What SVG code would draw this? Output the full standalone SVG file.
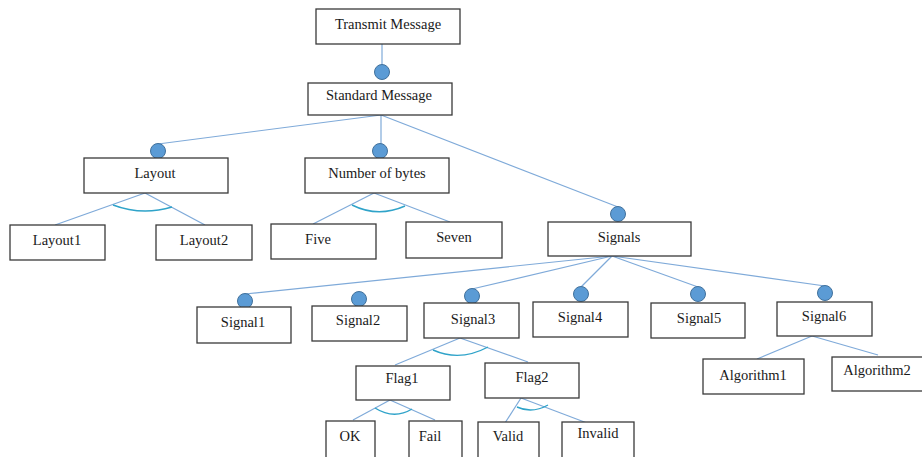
<svg xmlns="http://www.w3.org/2000/svg" width="922" height="457" viewBox="0 0 922 457">
<style>
.box{fill:#fff;stroke:#3a3a3a;stroke-width:1.3}
.lbl{font-size:14.5px;fill:#1a1a1a;text-anchor:middle}
.ln{stroke:#7faad9;stroke-width:1.2;fill:none}
.arc{stroke:#2fa3c9;stroke-width:1.4;fill:none}
.dot{fill:#5b9bd5;stroke:#41719c;stroke-width:1}
</style>
<rect width="922" height="457" fill="#fff"/>
<g id="connectors">
<line class="ln" x1="382" y1="44" x2="382" y2="65"/>
<line class="ln" x1="381" y1="115" x2="158" y2="144"/>
<line class="ln" x1="381" y1="115" x2="381" y2="144"/>
<line class="ln" x1="381" y1="115" x2="618" y2="207"/>
<line class="ln" x1="145" y1="193" x2="55" y2="225"/>
<line class="ln" x1="145" y1="193" x2="205" y2="225"/>
<path class="arc" d="M113,205 Q142,216 172,207"/>
<line class="ln" x1="374" y1="193" x2="313" y2="224"/>
<line class="ln" x1="374" y1="193" x2="450" y2="222"/>
<path class="arc" d="M352,205 Q378,218 405,206"/>
<line class="ln" x1="612" y1="256" x2="245" y2="294"/>
<line class="ln" x1="612" y1="256" x2="472" y2="289"/>
<line class="ln" x1="612" y1="256" x2="581" y2="287"/>
<line class="ln" x1="612" y1="256" x2="698" y2="287"/>
<line class="ln" x1="612" y1="256" x2="825" y2="286"/>
<line class="ln" x1="460" y1="338" x2="395" y2="365"/>
<line class="ln" x1="460" y1="338" x2="528" y2="362"/>
<path class="arc" d="M433,350 Q460,362 488,347"/>
<line class="ln" x1="390" y1="400" x2="353" y2="420"/>
<line class="ln" x1="390" y1="400" x2="435" y2="420"/>
<path class="arc" d="M375,408 Q394,420 412,409"/>
<line class="ln" x1="521" y1="398" x2="505" y2="423"/>
<line class="ln" x1="521" y1="398" x2="587" y2="423"/>
<path class="arc" d="M517,407 Q532,414 548,405"/>
<line class="ln" x1="812" y1="336" x2="757" y2="359"/>
<line class="ln" x1="812" y1="336" x2="878" y2="355"/>
<circle class="dot" cx="382" cy="72" r="7.5"/>
<circle class="dot" cx="158" cy="151" r="7.5"/>
<circle class="dot" cx="380" cy="151" r="7.5"/>
<circle class="dot" cx="618" cy="214" r="7.5"/>
<circle class="dot" cx="245" cy="301" r="7.5"/>
<circle class="dot" cx="359" cy="299" r="7.5"/>
<circle class="dot" cx="472" cy="296" r="7.5"/>
<circle class="dot" cx="581" cy="294" r="7.5"/>
<circle class="dot" cx="698" cy="294" r="7.5"/>
<circle class="dot" cx="825" cy="293" r="7.5"/>
</g>
<g font-family="'Liberation Serif', 'Times New Roman', 'DejaVu Serif', serif">
<g id="transmit"><rect class="box" x="316" y="9" width="144" height="35"/><text class="lbl" x="388" y="29">Transmit Message</text></g>
<g id="standard"><rect class="box" x="308" y="83" width="144" height="32"/><text class="lbl" x="379" y="100">Standard Message</text></g>
<g id="layout"><rect class="box" x="84" y="158" width="144" height="35"/><text class="lbl" x="155" y="178">Layout</text></g>
<g id="numbytes"><rect class="box" x="305" y="158" width="144" height="35"/><text class="lbl" x="377" y="178">Number of bytes</text></g>
<g id="layout1"><rect class="box" x="10" y="225" width="95" height="35"/><text class="lbl" x="57" y="245">Layout1</text></g>
<g id="layout2"><rect class="box" x="156" y="225" width="96" height="35"/><text class="lbl" x="204" y="245">Layout2</text></g>
<g id="five"><rect class="box" x="271" y="224" width="105" height="35"/><text class="lbl" x="318" y="244">Five</text></g>
<g id="seven"><rect class="box" x="406" y="222" width="96" height="36"/><text class="lbl" x="454" y="242">Seven</text></g>
<g id="signals"><rect class="box" x="548" y="222" width="143" height="34"/><text class="lbl" x="619" y="242">Signals</text></g>
<g id="signal1"><rect class="box" x="197" y="307" width="94" height="36"/><text class="lbl" x="243" y="327">Signal1</text></g>
<g id="signal2"><rect class="box" x="312" y="306" width="95" height="35"/><text class="lbl" x="358" y="325">Signal2</text></g>
<g id="signal3"><rect class="box" x="424" y="303" width="95" height="35"/><text class="lbl" x="473" y="324">Signal3</text></g>
<g id="signal4"><rect class="box" x="533" y="302" width="95" height="35"/><text class="lbl" x="580" y="322">Signal4</text></g>
<g id="signal5"><rect class="box" x="651" y="303" width="94" height="35"/><text class="lbl" x="699" y="323">Signal5</text></g>
<g id="signal6"><rect class="box" x="777" y="302" width="95" height="34"/><text class="lbl" x="824" y="321">Signal6</text></g>
<g id="flag1"><rect class="box" x="356" y="366" width="94" height="34"/><text class="lbl" x="402" y="383">Flag1</text></g>
<g id="flag2"><rect class="box" x="485" y="363" width="94" height="35"/><text class="lbl" x="532" y="382">Flag2</text></g>
<g id="ok"><rect class="box" x="326" y="421" width="49" height="37"/><text class="lbl" x="350" y="441">OK</text></g>
<g id="fail"><rect class="box" x="409" y="421" width="53" height="37"/><text class="lbl" x="430" y="441">Fail</text></g>
<g id="valid"><rect class="box" x="478" y="422" width="61" height="36"/><text class="lbl" x="508" y="441">Valid</text></g>
<g id="invalid"><rect class="box" x="562" y="422" width="72" height="36"/><text class="lbl" x="598" y="438">Invalid</text></g>
<g id="algorithm1"><rect class="box" x="703" y="359" width="101" height="35"/><text class="lbl" x="753" y="380">Algorithm1</text></g>
<g id="algorithm2"><rect class="box" x="832" y="357" width="92" height="34"/><text class="lbl" x="877" y="375">Algorithm2</text></g>
</g>
</svg>
